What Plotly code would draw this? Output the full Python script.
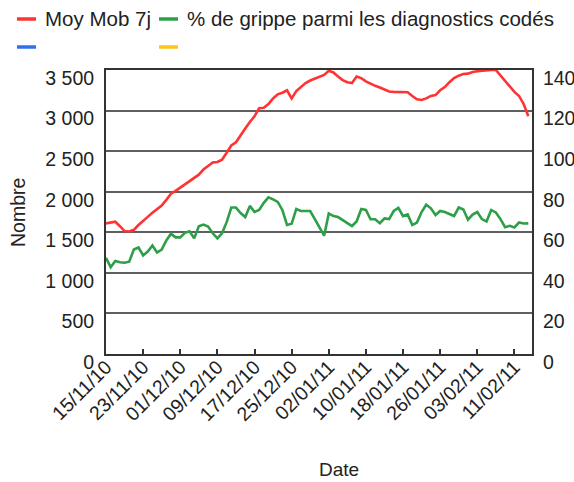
import pandas as pd
import plotly.graph_objects as go

# ---- data ----
start_date = "2010-11-15"
n_days = 92
dates = pd.date_range(start_date, periods=n_days, freq="D")

moy_mob_7j = [1610, 1620, 1630, 1575, 1515, 1510, 1530, 1590, 1645, 1690,
              1740, 1786, 1830, 1900, 1975, 2010, 2050, 2100, 2140, 2170,
              2210, 2275, 2320, 2360, 2367, 2395, 2480, 2570, 2610, 2700,
              2780, 2860, 2930, 3030, 3035, 3080, 3150, 3200, 3220, 3250,
              3150, 3240, 3290, 3340, 3370, 3395, 3420, 3440, 3490, 3470,
              3420, 3375, 3350, 3340, 3420, 3400, 3360, 3330, 3305, 3285,
              3260, 3235, 3230, 3230, 3230, 3225, 3180, 3140, 3130, 3150,
              3180, 3190, 3250, 3290, 3350, 3400, 3430, 3450, 3455, 3475,
              3485, 3490, 3500, 3500, 3500, 3430, 3360, 3290, 3230, 3180,
              3080, 2930]

pct_grippe = [47.4, 42.8, 45.9, 45.2, 45.0, 45.5, 51.5, 52.5, 48.6, 50.5,
              53.5, 50.0, 51.5, 56.0, 59.3, 57.5, 57.5, 59.7, 60.5, 57.0,
              63.0, 63.8, 62.8, 59.5, 57.0, 59.5, 65.0, 72.2, 72.2, 69.5,
              67.5, 73.0, 70.0, 71.0, 74.5, 77.2, 76.2, 75.0, 71.0, 63.6,
              64.2, 71.5, 70.5, 70.5, 70.5, 66.5, 62.5, 58.3, 69.3, 68.0,
              67.5, 66.0, 64.5, 63.1, 65.3, 71.5, 71.0, 66.4, 66.4, 64.5,
              66.8, 66.5, 70.5, 72.0, 68.0, 68.8, 63.6, 64.8, 70.0, 73.6,
              71.8, 68.5, 70.5, 70.0, 69.0, 68.0, 72.2, 71.2, 66.2, 68.7,
              70.0, 66.5, 65.3, 71.0, 69.8, 66.5, 62.5, 63.2, 62.4, 64.8,
              64.3, 64.4]

series_names = ["Moy Mob 7j", "% de grippe parmi les diagnostics codés", "", ""]
series_colors = ["#ff3333", "#2e9e48", "#2f6ff0", "#ffc61a"]

left_tickvals = [0, 500, 1000, 1500, 2000, 2500, 3000, 3500]
left_ticktext = ["0", "500", "1 000", "1 500", "2 000", "2 500", "3 000", "3 500"]
right_tickvals = [0, 20, 40, 60, 80, 100, 120, 140]
right_ticktext = ["0", "20", "40", "60", "80", "100", "120", "140"]

y_title = "Nombre"
x_title = "Date"

# ---- figure ----
W, H = 574, 482
ML, MR, MT, MB = 106, 42, 70, 128
PW, PH = W - ML - MR, H - MT - MB

def px(x):
    return (x - ML) / PW

def py(y):
    return (H - MB - y) / PH

FONT = "Liberation Sans, Arial, sans-serif"
TXT = "#222222"
TICK_SIZE = 19.5
LEG_SIZE = 20.5

fig = go.Figure()
fig.add_trace(go.Scatter(x=dates, y=moy_mob_7j, mode="lines", name=series_names[0],
                         line=dict(color=series_colors[0], width=2.6), yaxis="y"))
fig.add_trace(go.Scatter(x=dates, y=pct_grippe, mode="lines", name=series_names[1],
                         line=dict(color=series_colors[1], width=2.6), yaxis="y2"))

# legend drawn manually (2 x 2 grid)
legend_pos = [(17, 19), (159, 19), (17, 47), (159, 47)]
shapes = []
annotations = []
for (lx, ly), name, col in zip(legend_pos, series_names, series_colors):
    shapes.append(dict(type="line", xref="paper", yref="paper",
                       x0=px(lx), x1=px(lx + 19), y0=py(ly), y1=py(ly),
                       line=dict(color=col, width=3.5)))
    if name:
        annotations.append(dict(xref="paper", yref="paper", x=px(lx + 26), y=py(ly),
                                xanchor="left", yanchor="middle", showarrow=False,
                                text=name, font=dict(family=FONT, size=LEG_SIZE, color=TXT)))

annotations.append(dict(xref="paper", yref="paper", x=px(18), y=py(213),
                        xanchor="center", yanchor="middle", showarrow=False,
                        text=y_title, textangle=-90,
                        font=dict(family=FONT, size=19.5, color=TXT)))
annotations.append(dict(xref="paper", yref="paper", x=px(339), y=py(469),
                        xanchor="center", yanchor="middle", showarrow=False,
                        text=x_title, font=dict(family=FONT, size=19, color=TXT)))

fig.update_layout(
    width=W, height=H,
    margin=dict(l=ML, r=MR, t=MT, b=MB, autoexpand=False),
    paper_bgcolor="white", plot_bgcolor="white",
    showlegend=False,
    font=dict(family=FONT, size=19, color=TXT),
    shapes=shapes, annotations=annotations,
    xaxis=dict(
        type="date",
        range=["2010-11-15", "2011-02-14 19:00"],
        tick0="2010-11-15", dtick=8 * 86400000, tickformat="%d/%m/%y",
        tickangle=-45, ticks="inside", ticklen=5, tickwidth=1.5, tickcolor="#333",
        showgrid=False, showline=True, linecolor="#333", linewidth=2, mirror=True,
        zeroline=False, tickfont=dict(size=TICK_SIZE, color=TXT),
        ticklabelstandoff=-8,
    ),
    yaxis=dict(
        range=[0, 3500], tickvals=left_tickvals, ticktext=left_ticktext,
        showgrid=True, gridcolor="#5f5f5f", gridwidth=2,
        showline=True, linecolor="#333", linewidth=2, zeroline=False,
        ticks="", ticklabelshift=8, ticklabelstandoff=6,
        tickfont=dict(size=TICK_SIZE, color=TXT),
    ),
    yaxis2=dict(
        range=[0, 140], tickvals=right_tickvals, ticktext=right_ticktext,
        overlaying="y", side="right", showgrid=False,
        showline=True, linecolor="#333", linewidth=2, zeroline=False,
        ticks="", ticklabelshift=8, ticklabelstandoff=5,
        tickfont=dict(size=TICK_SIZE, color=TXT),
    ),
)

fig.write_html("out.html", config={"displayModeBar": False},
               post_script="document.body.style.margin='0';document.body.style.padding='0';")
